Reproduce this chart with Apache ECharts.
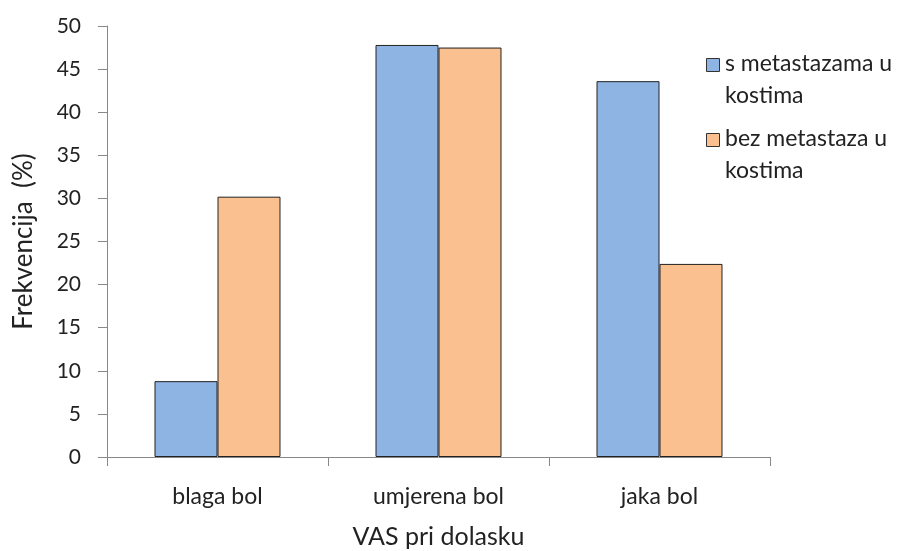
<!DOCTYPE html>
<html>
<head>
<meta charset="utf-8">
<script src="https://cdn.jsdelivr.net/npm/echarts@6/dist/echarts.min.js"></script>
<style>html,body{margin:0;padding:0;background:#fff}#c{width:902px;height:551px}</style>
</head>
<body>
<div id="c"></div>
<script>
const categories = ['blaga bol', 'umjerena bol', 'jaka bol'];
const seriesNames = ['s metastazama u\nkostima', 'bez metastaza u\nkostima'];
const seriesColors = ['#8EB4E3', '#FAC090'];
const withMeta = [8.8, 47.8, 43.6];
const withoutMeta = [30.2, 47.5, 22.4];
const yTicks = [0, 50, 5];

const chart = echarts.init(document.getElementById('c'), null, {renderer: 'canvas'});
const font = 'Lato, "Open Sans", sans-serif';
const textColor = '#222';

const legendGraphics = [];
seriesNames.forEach(function (name, i) {
  const top = 58 + i * 75;
  legendGraphics.push({
    type: 'rect', left: 706, top: top,
    shape: {width: 13, height: 13},
    style: {fill: seriesColors[i], stroke: '#333', lineWidth: 1}
  });
  legendGraphics.push({
    type: 'text', left: 725, top: top - 10,
    style: {text: name, font: '23px ' + font, fill: textColor, lineHeight: 32}
  });
});

chart.setOption({
  animation: false,
  backgroundColor: '#fff',
  grid: {left: 107, right: 132, top: 26, bottom: 94, containLabel: false, outerBoundsMode: 'none'},
  graphic: legendGraphics,
  xAxis: {
    type: 'category', data: categories,
    name: 'VAS pri dolasku', nameLocation: 'middle', nameGap: 67,
    nameTextStyle: {fontFamily: font, fontSize: 25, color: textColor},
    axisLine: {lineStyle: {color: '#888', width: 1}},
    axisTick: {show: true, alignWithLabel: false, length: 9, lineStyle: {color: '#888'}},
    axisLabel: {fontFamily: font, fontSize: 23, color: textColor, margin: 28}
  },
  yAxis: {
    type: 'value', min: yTicks[0], max: yTicks[1], interval: yTicks[2],
    name: 'Frekvencija  (%)', nameLocation: 'middle', nameGap: 70,
    nameTextStyle: {fontFamily: font, fontSize: 26, color: textColor},
    axisLine: {show: true, lineStyle: {color: '#888', width: 1}},
    axisTick: {show: true, length: 9, lineStyle: {color: '#888'}},
    axisLabel: {fontFamily: font, fontSize: 21, color: textColor, margin: 26},
    splitLine: {show: false}
  },
  series: [
    {name: seriesNames[0], type: 'bar', data: withMeta, barWidth: '28.5%', barGap: '0%',
     itemStyle: {color: seriesColors[0], borderColor: '#222', borderWidth: 1}},
    {name: seriesNames[1], type: 'bar', data: withoutMeta, barWidth: '28.5%', barGap: '0%',
     itemStyle: {color: seriesColors[1], borderColor: '#222', borderWidth: 1}}
  ]
});
</script>
</body>
</html>
